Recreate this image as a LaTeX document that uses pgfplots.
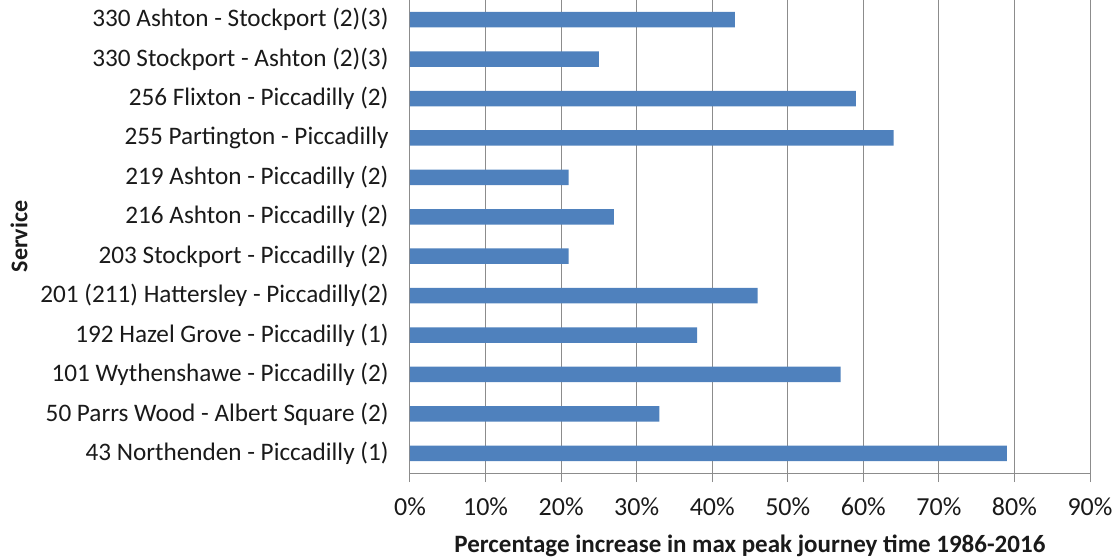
\documentclass[border=0pt]{standalone}
\usepackage{pgfplots}
\pgfplotsset{compat=1.18}
\usepackage{fontspec}
\setmainfont{Carlito}
\definecolor{barblue}{HTML}{4F81BD}
\definecolor{gridgray}{HTML}{8C8C8C}
\definecolor{txt}{HTML}{1A1A1A}
\begin{document}
\begin{tikzpicture}
\path[use as bounding box] (-410pt,-85pt) rectangle (708pt,473pt);
\begin{axis}[
    at={(0,0)}, anchor=south west,
    scale only axis,
    width=680pt, height=473pt,
    xbar, bar width=15.5pt,
    xmin=0, xmax=90,
    ymin=-0.5, ymax=11.5,
    axis x line=bottom, axis y line=left,
    axis line style={-, gridgray, line width=1pt},
    xmajorgrids, major grid style={gridgray, line width=1pt},
    xtick={0,10,...,90},
    xticklabels={0\%,10\%,20\%,30\%,40\%,50\%,60\%,70\%,80\%,90\%},
    tick align=outside, major tick length=9pt,
    xtick style={gridgray, line width=1pt},
    ytick style={draw=none},
    ytick=data,
    yticklabels={43 Northenden - Piccadilly (1),
        50 Parrs Wood - Albert Square (2),
        101 Wythenshawe - Piccadilly (2),
        192 Hazel Grove - Piccadilly (1),
        201 (211) Hattersley - Piccadilly(2),
        203 Stockport - Piccadilly (2),
        216 Ashton - Piccadilly (2),
        219 Ashton - Piccadilly (2),
        255 Partington - Piccadilly,
        256 Flixton - Piccadilly (2),
        330 Stockport - Ashton (2)(3),
        330 Ashton - Stockport (2)(3)},
    ticklabel style={text=txt},
    yticklabel style={font=\fontsize{25.2}{29}\selectfont, xshift=-9pt},
    xticklabel style={font=\fontsize{26}{30}\selectfont, yshift=-12pt},
    xlabel={Percentage increase in max peak journey time 1986-2016},
    ylabel={Service},
    label style={text=txt},
    xlabel style={font=\bfseries\fontsize{25}{29}\selectfont, at={(axis description cs:0.5,-0.155)}, anchor=center},
    ylabel style={font=\bfseries\fontsize{24}{28}\selectfont, at={(axis description cs:-0.575,0.5)}, anchor=center},
]
\addplot[fill=barblue, draw=none] coordinates {
    (79,0) (33,1) (57,2) (38,3) (46,4) (21,5)
    (27,6) (21,7) (64,8) (59,9) (25,10) (43,11)
};
\end{axis}
\end{tikzpicture}
\end{document}
